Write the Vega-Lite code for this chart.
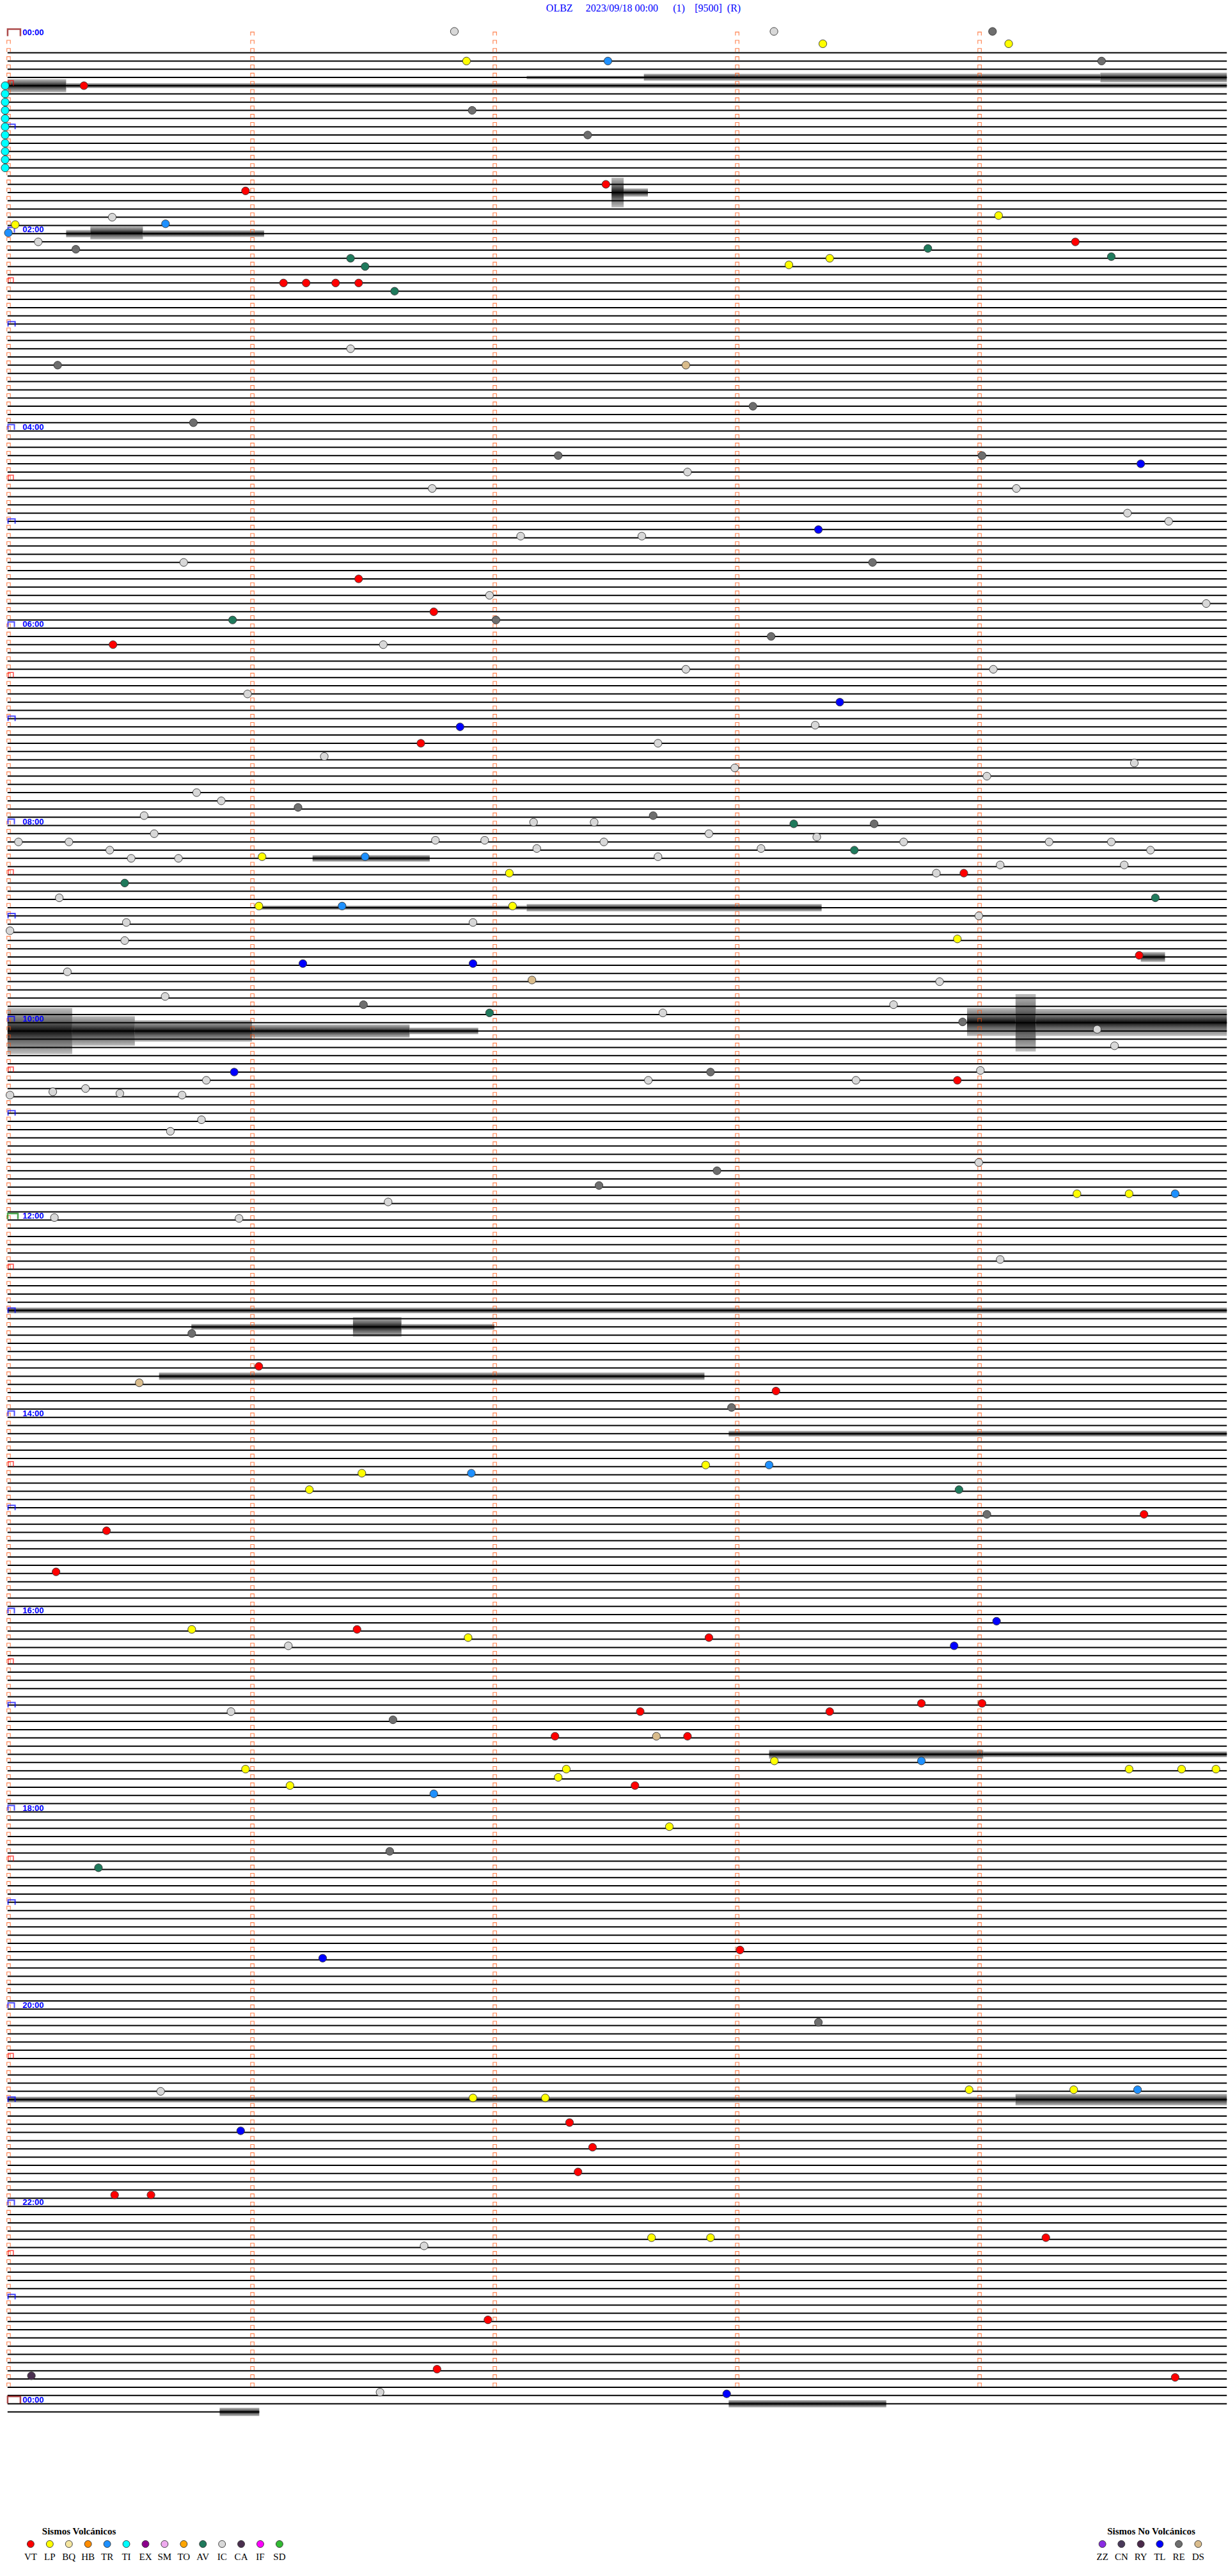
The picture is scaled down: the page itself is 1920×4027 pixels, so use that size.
{
"$schema":"https://vega.github.io/schema/vega-lite/v6.json",
"width":1920,"height":4027,"padding":0,
"autosize":{"type":"fit","contains":"padding"},
"background":"white",
"config":{"view":{"stroke":null}},
"datasets":{
"rows":[{"R":1},{"R":2},{"R":3},{"R":4},{"R":5},{"R":6},{"R":7},{"R":8},{"R":9},{"R":10},{"R":11},{"R":12},{"R":13},{"R":14},{"R":15},{"R":16},{"R":17},{"R":18},{"R":19},{"R":20},{"R":21},{"R":22},{"R":23},{"R":24},{"R":25},{"R":26},{"R":27},{"R":28},{"R":29},{"R":30},{"R":31},{"R":32},{"R":33},{"R":34},{"R":35},{"R":36},{"R":37},{"R":38},{"R":39},{"R":40},{"R":41},{"R":42},{"R":43},{"R":44},{"R":45},{"R":46},{"R":47},{"R":48},{"R":49},{"R":50},{"R":51},{"R":52},{"R":53},{"R":54},{"R":55},{"R":56},{"R":57},{"R":58},{"R":59},{"R":60},{"R":61},{"R":62},{"R":63},{"R":64},{"R":65},{"R":66},{"R":67},{"R":68},{"R":69},{"R":70},{"R":71},{"R":72},{"R":73},{"R":74},{"R":75},{"R":76},{"R":77},{"R":78},{"R":79},{"R":80},{"R":81},{"R":82},{"R":83},{"R":84},{"R":85},{"R":86},{"R":87},{"R":88},{"R":89},{"R":90},{"R":91},{"R":92},{"R":93},{"R":94},{"R":95},{"R":96},{"R":97},{"R":98},{"R":99},{"R":100},{"R":101},{"R":102},{"R":103},{"R":104},{"R":105},{"R":106},{"R":107},{"R":108},{"R":109},{"R":110},{"R":111},{"R":112},{"R":113},{"R":114},{"R":115},{"R":116},{"R":117},{"R":118},{"R":119},{"R":120},{"R":121},{"R":122},{"R":123},{"R":124},{"R":125},{"R":126},{"R":127},{"R":128},{"R":129},{"R":130},{"R":131},{"R":132},{"R":133},{"R":134},{"R":135},{"R":136},{"R":137},{"R":138},{"R":139},{"R":140},{"R":141},{"R":142},{"R":143},{"R":144},{"R":145},{"R":146},{"R":147},{"R":148},{"R":149},{"R":150},{"R":151},{"R":152},{"R":153},{"R":154},{"R":155},{"R":156},{"R":157},{"R":158},{"R":159},{"R":160},{"R":161},{"R":162},{"R":163},{"R":164},{"R":165},{"R":166},{"R":167},{"R":168},{"R":169},{"R":170},{"R":171},{"R":172},{"R":173},{"R":174},{"R":175},{"R":176},{"R":177},{"R":178},{"R":179},{"R":180},{"R":181},{"R":182},{"R":183},{"R":184},{"R":185},{"R":186},{"R":187},{"R":188},{"R":189},{"R":190},{"R":191},{"R":192},{"R":193},{"R":194},{"R":195},{"R":196},{"R":197},{"R":198},{"R":199},{"R":200},{"R":201},{"R":202},{"R":203},{"R":204},{"R":205},{"R":206},{"R":207},{"R":208},{"R":209},{"R":210},{"R":211},{"R":212},{"R":213},{"R":214},{"R":215},{"R":216},{"R":217},{"R":218},{"R":219},{"R":220},{"R":221},{"R":222},{"R":223},{"R":224},{"R":225},{"R":226},{"R":227},{"R":228},{"R":229},{"R":230},{"R":231},{"R":232},{"R":233},{"R":234},{"R":235},{"R":236},{"R":237},{"R":238},{"R":239},{"R":240},{"R":241},{"R":242},{"R":243},{"R":244},{"R":245},{"R":246},{"R":247},{"R":248},{"R":249},{"R":250},{"R":251},{"R":252},{"R":253},{"R":254},{"R":255},{"R":256},{"R":257},{"R":258},{"R":259},{"R":260},{"R":261},{"R":262},{"R":263},{"R":264},{"R":265},{"R":266},{"R":267},{"R":268},{"R":269},{"R":270},{"R":271},{"R":272},{"R":273},{"R":274},{"R":275},{"R":276},{"R":277},{"R":278},{"R":279},{"R":280},{"R":281},{"R":282},{"R":283},{"R":284},{"R":285},{"R":286},{"R":287},{"R":288},{"R":289},{"R":290}],
"noise":[
{"R":6,"s":128,"s1":157,"lo":5.8,"hi":6.2},
{"R":6,"s":157,"s1":270,"lo":5.55,"hi":6.4},
{"R":6,"s":270,"s1":301.3,"lo":5.4,"hi":6.6},
{"R":7,"s":-0.5,"s1":14,"lo":6.2,"hi":7.8},
{"R":7,"s":14,"s1":301.3,"lo":6.7,"hi":7.3},
{"R":20,"s":149,"s1":152,"lo":18.2,"hi":21.8},
{"R":20,"s":152,"s1":158,"lo":19.5,"hi":20.5},
{"R":25,"s":14,"s1":20,"lo":24.55,"hi":25.45},
{"R":25,"s":20,"s1":33,"lo":24.1,"hi":25.7},
{"R":25,"s":33,"s1":63,"lo":24.6,"hi":25.4},
{"R":101,"s":75,"s1":104,"lo":100.6,"hi":101.4},
{"R":107,"s":62,"s1":128,"lo":106.75,"hi":107.25},
{"R":107,"s":128,"s1":201,"lo":106.55,"hi":107.45},
{"R":113,"s":280,"s1":286,"lo":112.4,"hi":113.6},
{"R":121,"s":237,"s1":249,"lo":119.2,"hi":122.6},
{"R":121,"s":249,"s1":254,"lo":117.5,"hi":124.5},
{"R":121,"s":254,"s1":301.3,"lo":119.3,"hi":122.6},
{"R":122,"s":-0.5,"s1":15.5,"lo":119.2,"hi":124.8},
{"R":122,"s":15.5,"s1":31,"lo":120.2,"hi":123.8},
{"R":122,"s":31,"s1":60,"lo":120.7,"hi":123.3},
{"R":122,"s":60,"s1":99,"lo":121.2,"hi":122.8},
{"R":122,"s":99,"s1":116,"lo":121.6,"hi":122.4},
{"R":156,"s":-0.5,"s1":301.3,"lo":155.65,"hi":156.35},
{"R":158,"s":45,"s1":85,"lo":157.65,"hi":158.35},
{"R":158,"s":85,"s1":97,"lo":156.8,"hi":159.2},
{"R":158,"s":97,"s1":120,"lo":157.65,"hi":158.35},
{"R":164,"s":37,"s1":172,"lo":163.55,"hi":164.45},
{"R":171,"s":178,"s1":301.3,"lo":170.65,"hi":171.35},
{"R":210,"s":188,"s1":241,"lo":209.45,"hi":210.55},
{"R":210,"s":241,"s1":301.3,"lo":209.65,"hi":210.35},
{"R":252,"s":-0.5,"s1":249,"lo":251.65,"hi":252.35},
{"R":252,"s":249,"s1":301.3,"lo":251.3,"hi":252.7},
{"R":289,"s":178,"s1":217,"lo":288.55,"hi":289.45},
{"R":290,"s":52,"s1":61.8,"lo":289.5,"hi":290.5}
],
"markers":[
{"t":"IC","s":110.1,"R":0.4},{"t":"IC","s":189.2,"R":0.4},{"t":"RE","s":243.3,"R":0.4},
{"t":"LP","s":113.1,"R":4},{"t":"TR","s":148.1,"R":4},{"t":"LP","s":201.3,"R":1.9},{"t":"LP","s":247.3,"R":1.9},{"t":"RE","s":270.3,"R":4},
{"t":"VT","s":18.4,"R":7},{"t":"RE","s":114.5,"R":10},{"t":"RE","s":143.1,"R":13},{"t":"VT","s":147.6,"R":19},{"t":"VT","s":58.4,"R":19.8},
{"t":"TI","s":-1.1,"R":7},{"t":"TI","s":-1.1,"R":8},{"t":"TI","s":-1.1,"R":9},{"t":"TI","s":-1.1,"R":10},{"t":"TI","s":-1.1,"R":11},{"t":"TI","s":-1.1,"R":12},{"t":"TI","s":-1.1,"R":13},{"t":"TI","s":-1.1,"R":14},{"t":"TI","s":-1.1,"R":15},{"t":"TI","s":-1.1,"R":16},{"t":"TI","s":-1.1,"R":17},
{"t":"IC","s":25.4,"R":23},{"t":"LP","s":1.4,"R":23.9},{"t":"TR","s":-0.3,"R":24.9},{"t":"IC","s":7.1,"R":26},{"t":"RE","s":16.4,"R":26.9},
{"t":"TR","s":38.6,"R":23.8},{"t":"LP","s":244.8,"R":22.8},{"t":"VT","s":263.8,"R":26},{"t":"AV","s":227.3,"R":26.8},{"t":"AV","s":272.7,"R":27.8},
{"t":"LP","s":203,"R":28},{"t":"LP","s":192.9,"R":28.8},{"t":"AV","s":84.4,"R":28},{"t":"AV","s":88,"R":29},
{"t":"VT","s":67.8,"R":31},{"t":"VT","s":73.4,"R":31},{"t":"VT","s":80.7,"R":31},{"t":"VT","s":86.4,"R":31},{"t":"AV","s":95.3,"R":32},
{"t":"RE","s":11.9,"R":41},{"t":"IC","s":84.4,"R":39},{"t":"DS","s":167.4,"R":41},{"t":"RE","s":184,"R":46},{"t":"RE","s":45.5,"R":48},
{"t":"RE","s":135.8,"R":52},{"t":"RE","s":240.7,"R":52},{"t":"TL","s":280,"R":53},{"t":"IC","s":167.8,"R":54},{"t":"IC","s":104.6,"R":56},
{"t":"IC","s":249.2,"R":56},{"t":"IC","s":276.7,"R":59},{"t":"IC","s":286.9,"R":60},{"t":"TL","s":200.2,"R":61},{"t":"IC","s":126.5,"R":61.8},
{"t":"IC","s":156.5,"R":61.8},{"t":"IC","s":43.1,"R":65},{"t":"RE","s":213.6,"R":65},{"t":"VT","s":86.4,"R":67},{"t":"IC","s":118.8,"R":69},
{"t":"IC","s":296.2,"R":70},{"t":"VT","s":105,"R":71},{"t":"AV","s":55.2,"R":72},{"t":"RE","s":120.4,"R":72},{"t":"RE","s":188.5,"R":74},
{"t":"VT","s":25.6,"R":75},{"t":"IC","s":92.5,"R":75},{"t":"IC","s":167.4,"R":78},{"t":"IC","s":243.5,"R":78},{"t":"IC","s":58.9,"R":81},
{"t":"TL","s":205.5,"R":82},{"t":"IC","s":199.4,"R":84.8},{"t":"TL","s":111.5,"R":85},{"t":"VT","s":101.8,"R":87},{"t":"IC","s":160.5,"R":87},
{"t":"IC","s":77.9,"R":88.6},{"t":"IC","s":278.4,"R":89.4},{"t":"IC","s":179.5,"R":90},{"t":"IC","s":241.9,"R":91},{"t":"IC","s":46.3,"R":93},
{"t":"IC","s":52.4,"R":94},{"t":"RE","s":71.4,"R":94.8},{"t":"IC","s":33.3,"R":95.8},{"t":"RE","s":159.3,"R":95.8},{"t":"AV","s":194.1,"R":96.8},
{"t":"RE","s":214,"R":96.8},{"t":"IC","s":129.7,"R":96.6},{"t":"IC","s":144.7,"R":96.6},{"t":"IC","s":2.2,"R":99},{"t":"IC","s":14.7,"R":99},
{"t":"IC","s":24.8,"R":100},{"t":"IC","s":35.8,"R":98},{"t":"IC","s":30.1,"R":101},{"t":"IC","s":41.8,"R":101},{"t":"LP","s":62.5,"R":100.8},
{"t":"TR","s":88,"R":100.8},{"t":"IC","s":105.4,"R":98.8},{"t":"IC","s":117.6,"R":98.8},{"t":"IC","s":130.5,"R":99.8},{"t":"IC","s":147.1,"R":99},
{"t":"IC","s":160.5,"R":100.8},{"t":"IC","s":173.1,"R":98},{"t":"IC","s":186,"R":99.8},{"t":"IC","s":199.8,"R":98.4},{"t":"AV","s":209.1,"R":100},
{"t":"IC","s":221.3,"R":99},{"t":"IC","s":257.3,"R":99},{"t":"IC","s":272.7,"R":99},{"t":"IC","s":282.4,"R":100},{"t":"AV","s":28.5,"R":104},
{"t":"LP","s":123.7,"R":102.8},{"t":"IC","s":229.4,"R":102.8},{"t":"VT","s":236.2,"R":102.8},{"t":"IC","s":245.2,"R":101.8},{"t":"IC","s":275.9,"R":101.8},
{"t":"IC","s":12.3,"R":105.8},{"t":"LP","s":61.7,"R":106.8},{"t":"TR","s":82.3,"R":106.8},{"t":"LP","s":124.5,"R":106.8},{"t":"AV","s":283.6,"R":105.8},
{"t":"IC","s":28.9,"R":108.8},{"t":"IC","s":0.1,"R":109.8},{"t":"IC","s":239.9,"R":108},{"t":"LP","s":234.6,"R":110.8},{"t":"IC","s":28.5,"R":111},
{"t":"IC","s":114.7,"R":108.8},{"t":"VT","s":279.6,"R":112.8},{"t":"TL","s":72.6,"R":113.8},{"t":"TL","s":114.7,"R":113.8},{"t":"IC","s":14.3,"R":114.8},
{"t":"DS","s":129.3,"R":115.8},{"t":"IC","s":230.2,"R":116},{"t":"RE","s":87.6,"R":118.8},{"t":"AV","s":118.8,"R":119.8},{"t":"IC","s":161.7,"R":119.8},
{"t":"IC","s":218.8,"R":118.8},{"t":"RE","s":235.9,"R":120.9},{"t":"IC","s":269.2,"R":121.8},{"t":"IC","s":273.5,"R":123.8},{"t":"IC","s":38.5,"R":117.8},
{"t":"TL","s":55.6,"R":127},{"t":"IC","s":48.7,"R":128},{"t":"RE","s":173.5,"R":127},{"t":"VT","s":234.6,"R":128},{"t":"IC","s":158.1,"R":128},
{"t":"IC","s":209.5,"R":128},{"t":"IC","s":240.3,"R":126.8},{"t":"IC","s":0.1,"R":129.8},{"t":"IC","s":10.7,"R":129.4},{"t":"IC","s":18.8,"R":129},
{"t":"IC","s":27.3,"R":129.6},{"t":"IC","s":42.7,"R":129.8},{"t":"IC","s":39.8,"R":134.2},{"t":"IC","s":47.5,"R":132.8},{"t":"RE","s":175.1,"R":139},
{"t":"IC","s":239.9,"R":138},{"t":"RE","s":145.9,"R":140.8},{"t":"LP","s":264.2,"R":141.8},{"t":"LP","s":277.1,"R":141.8},{"t":"TR","s":288.5,"R":141.8},
{"t":"IC","s":11.1,"R":144.7},{"t":"IC","s":56.8,"R":144.8},{"t":"IC","s":93.7,"R":142.8},{"t":"IC","s":245.2,"R":149.8},{"t":"RE","s":45.1,"R":158.8},
{"t":"VT","s":61.7,"R":162.8},{"t":"DS","s":32.1,"R":164.8},{"t":"RE","s":178.7,"R":167.8},{"t":"VT","s":189.7,"R":165.8},{"t":"LP","s":172.3,"R":174.8},
{"t":"TR","s":188,"R":174.8},{"t":"LP","s":87.2,"R":175.8},{"t":"TR","s":114.3,"R":175.8},{"t":"LP","s":74.2,"R":177.8},{"t":"AV","s":235,"R":177.8},
{"t":"RE","s":241.9,"R":180.8},{"t":"VT","s":280.8,"R":180.8},{"t":"VT","s":24,"R":182.8},{"t":"VT","s":11.5,"R":187.8},{"t":"TL","s":244.3,"R":193.8},
{"t":"LP","s":45.1,"R":194.8},{"t":"VT","s":86,"R":194.8},{"t":"LP","s":113.5,"R":195.8},{"t":"VT","s":173.1,"R":195.8},{"t":"TL","s":233.8,"R":196.8},
{"t":"IC","s":69,"R":196.8},{"t":"IC","s":54.8,"R":204.8},{"t":"RE","s":94.9,"R":205.8},{"t":"VT","s":156.1,"R":204.8},{"t":"VT","s":203,"R":204.8},
{"t":"VT","s":225.7,"R":203.8},{"t":"VT","s":240.7,"R":203.8},{"t":"VT","s":135,"R":207.8},{"t":"DS","s":160.1,"R":207.8},{"t":"VT","s":167.8,"R":207.8},
{"t":"LP","s":189.3,"R":210.8},{"t":"LP","s":58.4,"R":211.8},{"t":"LP","s":137.8,"R":211.8},{"t":"LP","s":135.8,"R":212.8},{"t":"TR","s":225.7,"R":210.8},
{"t":"LP","s":277.1,"R":211.8},{"t":"LP","s":290.1,"R":211.8},{"t":"LP","s":298.6,"R":211.8},{"t":"LP","s":69.4,"R":213.8},{"t":"TR","s":105,"R":214.8},
{"t":"VT","s":154.8,"R":213.8},{"t":"LP","s":163.3,"R":218.8},{"t":"RE","s":94.1,"R":221.8},{"t":"AV","s":22,"R":223.8},{"t":"TL","s":77.5,"R":234.8},
{"t":"VT","s":180.8,"R":233.8},{"t":"RE","s":200.2,"R":242.6},{"t":"IC","s":37.4,"R":251},{"t":"LP","s":114.7,"R":251.8},{"t":"LP","s":132.6,"R":251.8},
{"t":"LP","s":237.5,"R":250.8},{"t":"LP","s":263.4,"R":250.8},{"t":"TR","s":279.2,"R":250.8},{"t":"VT","s":138.6,"R":254.8},{"t":"TL","s":57.2,"R":255.8},
{"t":"VT","s":144.3,"R":257.8},{"t":"VT","s":140.7,"R":260.8},{"t":"VT","s":26,"R":263.6},{"t":"VT","s":35,"R":263.6},{"t":"LP","s":158.9,"R":268.8},
{"t":"LP","s":173.5,"R":268.8},{"t":"VT","s":256.5,"R":268.8},{"t":"IC","s":102.6,"R":269.8},{"t":"VT","s":118.4,"R":278.8},{"t":"VT","s":105.8,"R":284.8},
{"t":"CA","s":5.4,"R":285.6},{"t":"VT","s":288.5,"R":285.8},{"t":"TL","s":177.5,"R":287.8},{"t":"IC","s":91.7,"R":287.6}
],
"labels":[{"R":0,"s":3.2,"txt":"00:00"},{"R":24,"s":3.2,"txt":"02:00"},{"R":48,"s":3.2,"txt":"04:00"},{"R":72,"s":3.2,"txt":"06:00"},{"R":96,"s":3.2,"txt":"08:00"},{"R":120,"s":3.2,"txt":"10:00"},{"R":144,"s":3.2,"txt":"12:00"},{"R":168,"s":3.2,"txt":"14:00"},{"R":192,"s":3.2,"txt":"16:00"},{"R":216,"s":3.2,"txt":"18:00"},{"R":240,"s":3.2,"txt":"20:00"},{"R":264,"s":3.2,"txt":"22:00"},{"R":288,"s":3.2,"txt":"00:00"}],
"legend":[{"t":"VT","s":5.21,"R":306.07},{"t":"LP","s":9.95,"R":306.07},{"t":"BQ","s":14.69,"R":306.07},{"t":"HB","s":19.42,"R":306.07},{"t":"TR","s":24.16,"R":306.07},{"t":"TI","s":28.9,"R":306.07},{"t":"EX","s":33.64,"R":306.07},{"t":"SM","s":38.37,"R":306.07},{"t":"TO","s":43.11,"R":306.07},{"t":"AV","s":47.85,"R":306.07},{"t":"IC","s":52.59,"R":306.07},{"t":"CA","s":57.32,"R":306.07},{"t":"IF","s":62.06,"R":306.07},{"t":"SD","s":66.8,"R":306.07},
{"t":"ZZ","s":270.5,"R":306.07},{"t":"CN","s":275.2,"R":306.07},{"t":"RY","s":280.0,"R":306.07},{"t":"TL","s":284.7,"R":306.07},{"t":"RE","s":289.4,"R":306.07},{"t":"DS","s":294.2,"R":306.07}],
"legendTitles":[{"txt":"Sismos Volcánicos","s":8.05,"R":304.5},{"txt":"Sismos No Volcánicos","s":271.7,"R":304.5}],
"title":[{"txt":"OLBZ","s":132.8,"R":-2.44},{"txt":"2023/09/18 00:00","s":142.6,"R":-2.44},{"txt":"(1)","s":164.2,"R":-2.44},{"txt":"[9500]","s":169.6,"R":-2.44},{"txt":"(R)","s":177.6,"R":-2.44}]
},
"layer":[
{"data":{"name":"rows"},"transform":[{"filter":"datum.R >= 3 && datum.R <= 289"}],
 "mark":{"type":"rule","color":"#000000","strokeWidth":2},
 "encoding":{"x":{"datum":-0.5,"type":"quantitative","scale":{"domain":[-1.895,301.27],"nice":false,"zero":false},"axis":null},
  "x2":{"datum":301.3},
  "y":{"field":"R","type":"quantitative","scale":{"domain":[-3.424,309.96],"nice":false,"zero":false,"reverse":true},"axis":null}}},
{"data":{"values":[{"R":290,"s":-0.5,"s1":61.8}]},
 "mark":{"type":"rule","color":"#000000","strokeWidth":2},
 "encoding":{"x":{"field":"s","type":"quantitative","scale":{"domain":[-1.895,301.27],"nice":false,"zero":false},"axis":null},
  "x2":{"field":"s1"},
  "y":{"field":"R","type":"quantitative","scale":{"domain":[-3.424,309.96],"nice":false,"zero":false,"reverse":true},"axis":null}}},
{"data":{"name":"noise"},
 "mark":{"type":"rect","color":{"gradient":"linear","x1":0,"y1":0,"x2":0,"y2":1,"stops":[{"offset":0,"color":"rgba(0,0,0,0.25)"},{"offset":0.3,"color":"rgba(0,0,0,0.6)"},{"offset":0.5,"color":"rgba(0,0,0,0.95)"},{"offset":0.7,"color":"rgba(0,0,0,0.6)"},{"offset":1,"color":"rgba(0,0,0,0.25)"}]}},
 "encoding":{"x":{"field":"s","type":"quantitative","scale":{"domain":[-1.895,301.27],"nice":false,"zero":false},"axis":null},
  "x2":{"field":"s1"},
  "y":{"field":"lo","type":"quantitative","scale":{"domain":[-3.424,309.96],"nice":false,"zero":false,"reverse":true},"axis":null},
  "y2":{"field":"hi"}}},
{"data":{"name":"rows"},"transform":[{"filter":"datum.R >= 2 && datum.R <= 287"}],
 "mark":{"type":"point","shape":"M-1,1L-1,-1L1,-1L1,1","filled":false,"stroke":"#ff4a00","strokeWidth":1.1,"size":30,"yOffset":-4},
 "encoding":{"x":{"datum":-0.24,"type":"quantitative","scale":{"domain":[-1.895,301.27],"nice":false,"zero":false},"axis":null},
  "y":{"field":"R","type":"quantitative","scale":{"domain":[-3.424,309.96],"nice":false,"zero":false,"reverse":true},"axis":null}}},
{"data":{"name":"rows"},"transform":[{"filter":"datum.R >= 1 && datum.R <= 287"}],
 "mark":{"type":"point","shape":"M-1,1L-1,-1L1,-1L1,1","filled":false,"stroke":"#ff4a00","strokeWidth":1.1,"size":30,"yOffset":-4},
 "encoding":{"x":{"datum":60.1,"type":"quantitative","scale":{"domain":[-1.895,301.27],"nice":false,"zero":false},"axis":null},
  "y":{"field":"R","type":"quantitative","scale":{"domain":[-3.424,309.96],"nice":false,"zero":false,"reverse":true},"axis":null}}},
{"data":{"name":"rows"},"transform":[{"filter":"datum.R >= 1 && datum.R <= 287"}],
 "mark":{"type":"point","shape":"M-1,1L-1,-1L1,-1L1,1","filled":false,"stroke":"#ff4a00","strokeWidth":1.1,"size":30,"yOffset":-4},
 "encoding":{"x":{"datum":120.1,"type":"quantitative","scale":{"domain":[-1.895,301.27],"nice":false,"zero":false},"axis":null},
  "y":{"field":"R","type":"quantitative","scale":{"domain":[-3.424,309.96],"nice":false,"zero":false,"reverse":true},"axis":null}}},
{"data":{"name":"rows"},"transform":[{"filter":"datum.R >= 1 && datum.R <= 287"}],
 "mark":{"type":"point","shape":"M-1,1L-1,-1L1,-1L1,1","filled":false,"stroke":"#ff4a00","strokeWidth":1.1,"size":30,"yOffset":-4},
 "encoding":{"x":{"datum":180.1,"type":"quantitative","scale":{"domain":[-1.895,301.27],"nice":false,"zero":false},"axis":null},
  "y":{"field":"R","type":"quantitative","scale":{"domain":[-3.424,309.96],"nice":false,"zero":false,"reverse":true},"axis":null}}},
{"data":{"name":"rows"},"transform":[{"filter":"datum.R >= 1 && datum.R <= 287"}],
 "mark":{"type":"point","shape":"M-1,1L-1,-1L1,-1L1,1","filled":false,"stroke":"#ff4a00","strokeWidth":1.1,"size":30,"yOffset":-4},
 "encoding":{"x":{"datum":240.1,"type":"quantitative","scale":{"domain":[-1.895,301.27],"nice":false,"zero":false},"axis":null},
  "y":{"field":"R","type":"quantitative","scale":{"domain":[-3.424,309.96],"nice":false,"zero":false,"reverse":true},"axis":null}}},
{"data":{"values":[{"R":7},{"R":31},{"R":55},{"R":79},{"R":103},{"R":127},{"R":151},{"R":175},{"R":199},{"R":223},{"R":247},{"R":271}]},
 "mark":{"type":"point","shape":"M-1,1L-1,-1L1,-1L1,1","filled":false,"stroke":"#ff0000","strokeWidth":1.5,"size":64,"yOffset":-4},
 "encoding":{"x":{"datum":0.3,"type":"quantitative","scale":{"domain":[-1.895,301.27],"nice":false,"zero":false},"axis":null},
  "y":{"field":"R","type":"quantitative","scale":{"domain":[-3.424,309.96],"nice":false,"zero":false,"reverse":true},"axis":null}}},
{"data":{"values":[{"R":12},{"R":36},{"R":60},{"R":84},{"R":108},{"R":132},{"R":156},{"R":180},{"R":204},{"R":228},{"R":252},{"R":276}]},
 "mark":{"type":"point","shape":"M-1,0.7L-1,-0.7L1,-0.7L1,0.7","filled":false,"stroke":"#0000ff","strokeWidth":2,"size":121,"yOffset":0},
 "encoding":{"x":{"datum":0.5,"type":"quantitative","scale":{"domain":[-1.895,301.27],"nice":false,"zero":false},"axis":null},
  "y":{"field":"R","type":"quantitative","scale":{"domain":[-3.424,309.96],"nice":false,"zero":false,"reverse":true},"axis":null}}},
{"data":{"values":[{"R":0},{"R":288}]},
 "mark":{"type":"point","shape":"M-1,0.55L-1,-0.55L1,-0.55L1,0.55","filled":false,"stroke":"#8b0000","strokeWidth":2.5,"size":400,"yOffset":7},
 "encoding":{"x":{"datum":1.1,"type":"quantitative","scale":{"domain":[-1.895,301.27],"nice":false,"zero":false},"axis":null},
  "y":{"field":"R","type":"quantitative","scale":{"domain":[-3.424,309.96],"nice":false,"zero":false,"reverse":true},"axis":null}}},
{"data":{"values":[{"R":144}]},
 "mark":{"type":"point","shape":"M-1,0.55L-1,-0.55L1,-0.55L1,0.55","filled":false,"stroke":"#008000","strokeWidth":2.5,"size":256,"yOffset":7},
 "encoding":{"x":{"datum":0.8,"type":"quantitative","scale":{"domain":[-1.895,301.27],"nice":false,"zero":false},"axis":null},
  "y":{"field":"R","type":"quantitative","scale":{"domain":[-3.424,309.96],"nice":false,"zero":false,"reverse":true},"axis":null}}},
{"data":{"values":[{"R":24},{"R":48},{"R":72},{"R":96},{"R":120},{"R":168},{"R":192},{"R":216},{"R":240},{"R":264}]},
 "mark":{"type":"point","shape":"M-1,0.8L-1,-0.8L1,-0.8L1,0.8","filled":false,"stroke":"#0000ff","strokeWidth":2,"size":100,"yOffset":7},
 "encoding":{"x":{"datum":0.4,"type":"quantitative","scale":{"domain":[-1.895,301.27],"nice":false,"zero":false},"axis":null},
  "y":{"field":"R","type":"quantitative","scale":{"domain":[-3.424,309.96],"nice":false,"zero":false,"reverse":true},"axis":null}}},
{"data":{"name":"labels"},
 "mark":{"type":"text","align":"left","baseline":"middle","dy":7,"font":"Liberation Sans","fontWeight":"bold","fontSize":13,"color":"#0000ff"},
 "encoding":{"x":{"field":"s","type":"quantitative","scale":{"domain":[-1.895,301.27],"nice":false,"zero":false},"axis":null},
  "y":{"field":"R","type":"quantitative","scale":{"domain":[-3.424,309.96],"nice":false,"zero":false,"reverse":true},"axis":null},
  "text":{"field":"txt"}}},
{"data":{"name":"markers"},
 "mark":{"type":"circle","size":150,"opacity":1,"stroke":"#333333","strokeWidth":0.9},
 "encoding":{"x":{"field":"s","type":"quantitative","scale":{"domain":[-1.895,301.27],"nice":false,"zero":false},"axis":null},
  "y":{"field":"R","type":"quantitative","scale":{"domain":[-3.424,309.96],"nice":false,"zero":false,"reverse":true},"axis":null},
  "color":{"field":"t","type":"nominal","legend":null,"scale":{"domain":["VT","LP","BQ","HB","TR","TI","EX","SM","TO","AV","IC","CA","IF","SD","ZZ","CN","RY","TL","RE","DS"],"range":["#ff0000","#ffff00","#f5e6a0","#ff8c00","#1e90ff","#00ffff","#8b008b","#eeaaee","#ffa500","#1f7a5c","#d8d8d8","#4a2f4f","#ff00ff","#33bb33","#8a2be2","#4a3a5a","#4a2a4a","#0000ff","#6e6e6e","#d9bc8c"]}}}},
{"data":{"name":"legend"},
 "mark":{"type":"circle","size":120,"opacity":1,"stroke":"#333333","strokeWidth":0.9},
 "encoding":{"x":{"field":"s","type":"quantitative","scale":{"domain":[-1.895,301.27],"nice":false,"zero":false},"axis":null},
  "y":{"field":"R","type":"quantitative","scale":{"domain":[-3.424,309.96],"nice":false,"zero":false,"reverse":true},"axis":null},
  "color":{"field":"t","type":"nominal","legend":null}}},
{"data":{"name":"legend"},
 "mark":{"type":"text","align":"center","baseline":"middle","dy":20,"font":"Liberation Serif","fontSize":15,"color":"#000000"},
 "encoding":{"x":{"field":"s","type":"quantitative","scale":{"domain":[-1.895,301.27],"nice":false,"zero":false},"axis":null},
  "y":{"field":"R","type":"quantitative","scale":{"domain":[-3.424,309.96],"nice":false,"zero":false,"reverse":true},"axis":null},
  "text":{"field":"t"}}},
{"data":{"name":"legendTitles"},
 "mark":{"type":"text","align":"left","baseline":"middle","font":"Liberation Serif","fontWeight":"bold","fontSize":15,"color":"#000000"},
 "encoding":{"x":{"field":"s","type":"quantitative","scale":{"domain":[-1.895,301.27],"nice":false,"zero":false},"axis":null},
  "y":{"field":"R","type":"quantitative","scale":{"domain":[-3.424,309.96],"nice":false,"zero":false,"reverse":true},"axis":null},
  "text":{"field":"txt"}}},
{"data":{"name":"title"},
 "mark":{"type":"text","align":"left","baseline":"middle","font":"Liberation Serif","fontSize":16,"color":"#0000ff"},
 "encoding":{"x":{"field":"s","type":"quantitative","scale":{"domain":[-1.895,301.27],"nice":false,"zero":false},"axis":null},
  "y":{"field":"R","type":"quantitative","scale":{"domain":[-3.424,309.96],"nice":false,"zero":false,"reverse":true},"axis":null},
  "text":{"field":"txt"}}}
]
}
